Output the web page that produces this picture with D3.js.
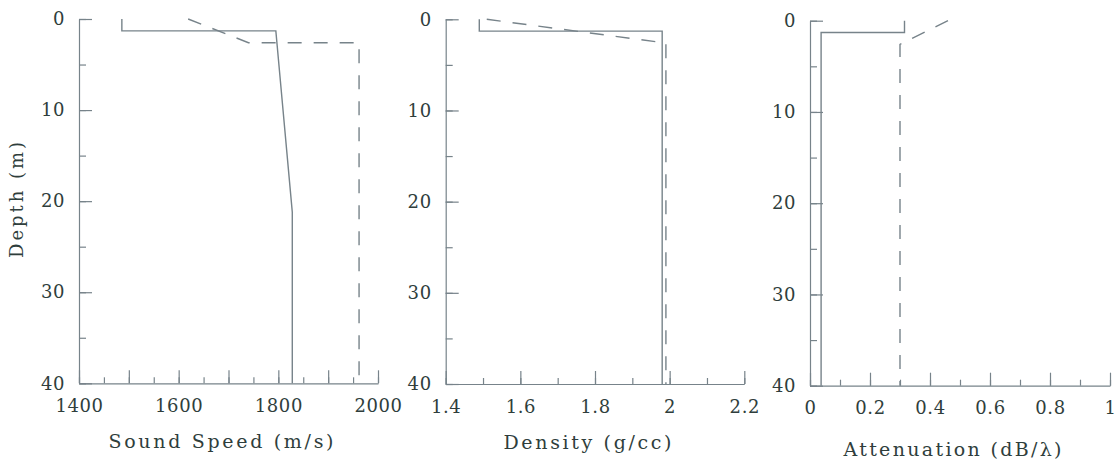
<!DOCTYPE html>
<html>
<head>
<meta charset="utf-8">
<script src="https://cdn.jsdelivr.net/npm/d3@7"></script>
<style>
  body { margin: 0; background: #fff; }
  text { font-family: "DejaVu Serif", "Liberation Serif", serif; fill: #2f3e3c; }
  .axis path, .axis line { stroke: #77838a; stroke-width: 1.2; fill: none; }
  .axis text { font-size: 18px; letter-spacing: 0.6px; }
  .line { fill: none; stroke: #77838a; stroke-width: 1.4; }
  .line-dash { stroke-dasharray: 14, 12; }
</style>
</head>
<body>
<div id="chart"></div>
<script>
const width = 1120;
const height = 464;

// Depth axis (shared)
const depthDomain = [0, 40];
const depthLabels = [0, 10, 20, 30, 40];

// Sound speed panel
const speedDomain = [1400, 2000];
const speedLabels = [1400, 1600, 1800, 2000];
const speedDepth = [0, 1.3, 1.3, 21.2, 40];
const speedTrue = [1486, 1486, 1795, 1828, 1828];
const speedEstDepth = [0, 2.6, 2.6, 40];
const speedEst = [1619, 1740, 1962, 1962];

// Density panel
const densityDomain = [1.4, 2.2];
const densityLabels = [1.4, 1.6, 1.8, 2, 2.2];
const densityDepth = [0, 1.3, 1.3, 40];
const densityTrue = [1.49, 1.49, 1.98, 1.98];
const densityEstDepth = [0, 2.6, 40];
const densityEst = [1.51, 1.99, 1.99];

// Attenuation panel
const attenDomain = [0, 1];
const attenLabels = [0, 0.2, 0.4, 0.6, 0.8, 1];
const attenDepth = [0, 1.3, 1.3, 40];
const attenTrue = [0.315, 0.315, 0.037, 0.037];
const attenEstDepth = [0, 2.6, 40];
const attenEst = [0.46, 0.3, 0.3];

const panels = [
  {title: 'Sound Speed (m/s)', titleLen: 225, titleY: 448, x0: 79, x1: 378, top: 19, bottom: 383.3,
   domain: speedDomain, labels: speedLabels, major: 100, minor: 50,
   solid: [speedDepth, speedTrue], dashed: [speedEstDepth, speedEst]},
  {title: 'Density (g/cc)', titleLen: 168, titleY: 449, x0: 445.7, x1: 744.3, top: 19.3, bottom: 384,
   domain: densityDomain, labels: densityLabels, major: 0.2, minor: 0.1,
   solid: [densityDepth, densityTrue], dashed: [densityEstDepth, densityEst]},
  {title: 'Attenuation (dB/\u03bb)', titleLen: 218, titleY: 456, x0: 810, x1: 1110, top: 20.7, bottom: 385.7,
   domain: attenDomain, labels: attenLabels, major: 0.2, minor: 0.1,
   solid: [attenDepth, attenTrue], dashed: [attenEstDepth, attenEst]}
];

const svg = d3.select('#chart')
  .append('svg')
    .attr('width', width)
    .attr('height', height);

const close = (a, b) => Math.abs(a - b) < 1e-6;

panels.forEach(p => {
  const x = d3.scaleLinear().domain(p.domain).range([p.x0, p.x1]);
  const y = d3.scaleLinear().domain(depthDomain).range([p.top, p.bottom]);
  const g = svg.append('g').attr('class', 'panel');

  const n = Math.round((p.domain[1] - p.domain[0]) / p.minor);
  const minorTicks = d3.range(n + 1).map(i => p.domain[0] + i * p.minor);
  const majorTicks = minorTicks.filter(v => close(Math.round((v - p.domain[0]) / p.major) * p.major, v - p.domain[0]));

  // minor x ticks
  g.append('g')
    .attr('class', 'axis')
    .attr('transform', 'translate(0,' + p.bottom + ')')
    .call(d3.axisBottom(x).tickValues(minorTicks).tickSize(-6).tickFormat(''))
    .call(a => a.select('.domain').remove());
  // major x ticks + labels
  g.append('g')
    .attr('class', 'axis')
    .attr('transform', 'translate(0,' + p.bottom + ')')
    .call(d3.axisBottom(x).tickValues(majorTicks).tickSizeInner(-13).tickSizeOuter(0).tickPadding(16)
      .tickFormat(v => p.labels.some(l => close(l, v)) ? d3.format('~g')(v) : ''));

  // y axis
  const yMinor = d3.range(0, 41, 5);
  g.append('g')
    .attr('class', 'axis')
    .attr('transform', 'translate(' + p.x0 + ',0)')
    .call(d3.axisLeft(y).tickValues(yMinor).tickSizeInner(-7).tickSizeOuter(0).tickFormat(''))
    .call(a => a.select('.domain').remove());
  g.append('g')
    .attr('class', 'axis')
    .attr('transform', 'translate(' + p.x0 + ',0)')
    .call(d3.axisLeft(y).tickValues(depthLabels).tickSizeInner(-13).tickSizeOuter(0).tickPadding(14));

  const line = d3.line().x(d => x(d[1])).y(d => y(d[0]));

  g.append('path')
    .datum(d3.zip(p.solid[0], p.solid[1]))
    .attr('class', 'line')
    .attr('d', line);
  g.append('path')
    .datum(d3.zip(p.dashed[0], p.dashed[1]))
    .attr('class', 'line line-dash')
    .attr('d', line);

  g.append('text')
    .attr('x', (p.x0 + p.x1) / 2 - 7.5)
    .attr('y', p.titleY)
    .attr('text-anchor', 'middle')
    .attr('font-size', 19)
    .attr('textLength', p.titleLen)
    .attr('lengthAdjust', 'spacing')
    .text(p.title);
});

svg.append('text')
  .attr('transform', 'translate(23,200) rotate(-90)')
  .attr('text-anchor', 'middle')
  .attr('font-size', 18)
  .attr('textLength', 116)
  .attr('lengthAdjust', 'spacing')
  .text('Depth (m)');
</script>
</body>
</html>
